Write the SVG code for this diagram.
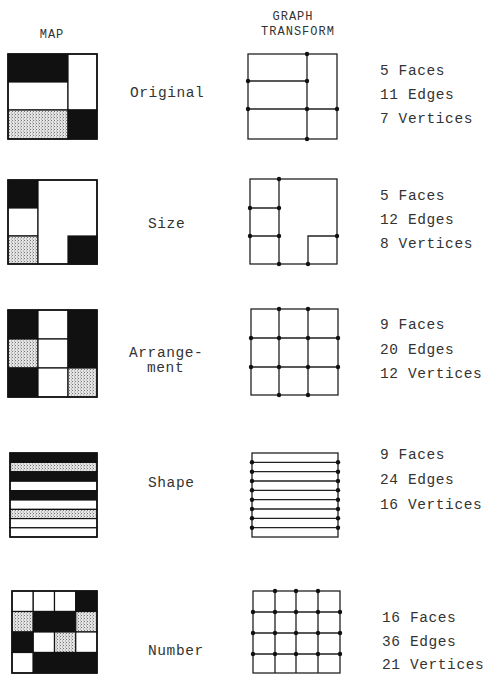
<svg xmlns="http://www.w3.org/2000/svg" width="486" height="675" viewBox="0 0 486 675">
<defs>
<pattern id="stip" width="3" height="3" patternUnits="userSpaceOnUse">
<rect width="3" height="3" fill="#e4e4e4"/>
<rect x="0" y="0" width="1" height="1" fill="#777"/>
<rect x="2" y="1.5" width="1" height="1" fill="#999"/>
</pattern>
</defs>
<style>
.b{fill:#111;stroke:#111;stroke-width:1.2}
.w{fill:#fff;stroke:#111;stroke-width:1.2}
.s{fill:url(#stip);stroke:#111;stroke-width:1.2}
.o{fill:none;stroke:#111;stroke-width:1.6}
.g{fill:none;stroke:#222;stroke-width:1.3}
.v{fill:#111}
text{font-family:"Liberation Mono","Courier New",monospace;fill:#333}
.t{font-size:14.5px;letter-spacing:0.6px}
.h{font-size:12px;letter-spacing:1px;text-anchor:middle}
</style>
<rect width="486" height="675" fill="#fff"/>
<g id="headers">
<text class="h" x="52" y="38">MAP</text>
<text class="h" x="293" y="20">GRAPH</text>
<text class="h" x="298" y="35">TRANSFORM</text>
</g>
<g id="row1">
<g id="map1">
<rect class="b" x="8" y="54" width="60" height="28"/>
<rect class="w" x="8" y="82" width="60" height="28"/>
<rect class="s" x="8" y="110" width="60" height="29"/>
<rect class="w" x="68" y="54" width="29" height="56"/>
<rect class="b" x="68" y="110" width="29" height="29"/>
<rect class="o" x="8" y="54" width="89" height="85"/>
</g>
<text class="t" x="130" y="97">Original</text>
<g id="graph1">
<rect class="g" x="248" y="54" width="89" height="85"/>
<path class="g" d="M307,54V139M248,81H307M248,109H337"/>
<g class="v"><circle cx="307" cy="54" r="2.2"/><circle cx="248" cy="81" r="2.2"/><circle cx="307" cy="81" r="2.2"/><circle cx="248" cy="109" r="2.2"/><circle cx="307" cy="109" r="2.2"/><circle cx="337" cy="109" r="2.2"/><circle cx="307" cy="139" r="2.2"/></g>
</g>
<g id="stats1"><text class="t" x="380" y="75">5 Faces</text><text class="t" x="380" y="99">11 Edges</text><text class="t" x="380" y="123">7 Vertices</text></g>
</g>
<g id="row2">
<g id="map2">
<rect class="b" x="8" y="180" width="30" height="28"/>
<rect class="w" x="8" y="208" width="30" height="28"/>
<rect class="s" x="8" y="236" width="30" height="28"/>
<rect class="w" x="38" y="180" width="59" height="84"/>
<rect class="b" x="68" y="236" width="29" height="28"/>
<rect class="o" x="8" y="180" width="89" height="84"/>
</g>
<text class="t" x="148" y="228">Size</text>
<g id="graph2">
<rect class="g" x="250" y="179" width="87" height="85"/>
<path class="g" d="M279,179V264M250,208H279M250,236H279M308,264V236H337"/>
<g class="v"><circle cx="279" cy="179" r="2.2"/><circle cx="250" cy="208" r="2.2"/><circle cx="279" cy="208" r="2.2"/><circle cx="250" cy="236" r="2.2"/><circle cx="279" cy="236" r="2.2"/><circle cx="337" cy="236" r="2.2"/><circle cx="279" cy="264" r="2.2"/><circle cx="308" cy="264" r="2.2"/></g>
</g>
<g id="stats2"><text class="t" x="380" y="200">5 Faces</text><text class="t" x="380" y="224">12 Edges</text><text class="t" x="380" y="248">8 Vertices</text></g>
</g>
<g id="row3">
<g id="map3">
<rect class="b" x="8" y="310" width="30" height="29"/>
<rect class="s" x="8" y="339" width="30" height="29"/>
<rect class="b" x="8" y="368" width="30" height="29"/>
<rect class="w" x="38" y="310" width="30" height="29"/>
<rect class="w" x="38" y="339" width="30" height="29"/>
<rect class="w" x="38" y="368" width="30" height="29"/>
<rect class="b" x="68" y="310" width="29" height="58"/>
<rect class="s" x="68" y="368" width="29" height="29"/>
<rect class="o" x="8" y="310" width="89" height="87"/>
</g>
<text class="t" x="129" y="357">Arrange-</text>
<text class="t" x="147" y="372">ment</text>
<g id="graph3">
<rect class="g" x="251" y="309" width="87" height="86"/>
<path class="g" d="M279,309V395M308,309V395M251,338H338M251,367H338"/>
<g class="v"><circle cx="279" cy="309" r="2.2"/><circle cx="308" cy="309" r="2.2"/><circle cx="251" cy="338" r="2.2"/><circle cx="279" cy="338" r="2.2"/><circle cx="308" cy="338" r="2.2"/><circle cx="338" cy="338" r="2.2"/><circle cx="251" cy="367" r="2.2"/><circle cx="279" cy="367" r="2.2"/><circle cx="308" cy="367" r="2.2"/><circle cx="338" cy="367" r="2.2"/><circle cx="279" cy="395" r="2.2"/><circle cx="308" cy="395" r="2.2"/></g>
</g>
<g id="stats3"><text class="t" x="380" y="329">9 Faces</text><text class="t" x="380" y="354">20 Edges</text><text class="t" x="380" y="378">12 Vertices</text></g>
</g>
<g id="row4">
<g id="map4">
<rect class="b" x="10" y="453" width="87" height="9.4"/>
<rect class="s" x="10" y="462.4" width="87" height="9.4"/>
<rect class="b" x="10" y="471.8" width="87" height="9.4"/>
<rect class="w" x="10" y="481.2" width="87" height="9.4"/>
<rect class="b" x="10" y="490.6" width="87" height="9.4"/>
<rect class="w" x="10" y="500" width="87" height="9.4"/>
<rect class="s" x="10" y="509.4" width="87" height="9.2"/>
<rect class="w" x="10" y="518.6" width="87" height="9.2"/>
<rect class="w" x="10" y="527.8" width="87" height="9.2"/>
<rect class="o" x="10" y="453" width="87" height="84"/>
</g>
<text class="t" x="148" y="487">Shape</text>
<g id="graph4">
<rect class="g" x="252" y="453" width="86" height="84"/>
<path class="g" d="M252,462.3H338M252,471.7H338M252,481H338M252,490.3H338M252,499.7H338M252,509H338M252,518.3H338M252,527.7H338"/>
<g class="v">
<circle cx="252" cy="462.3" r="2.2"/><circle cx="338" cy="462.3" r="2.2"/>
<circle cx="252" cy="471.7" r="2.2"/><circle cx="338" cy="471.7" r="2.2"/>
<circle cx="252" cy="481" r="2.2"/><circle cx="338" cy="481" r="2.2"/>
<circle cx="252" cy="490.3" r="2.2"/><circle cx="338" cy="490.3" r="2.2"/>
<circle cx="252" cy="499.7" r="2.2"/><circle cx="338" cy="499.7" r="2.2"/>
<circle cx="252" cy="509" r="2.2"/><circle cx="338" cy="509" r="2.2"/>
<circle cx="252" cy="518.3" r="2.2"/><circle cx="338" cy="518.3" r="2.2"/>
<circle cx="252" cy="527.7" r="2.2"/><circle cx="338" cy="527.7" r="2.2"/>
</g>
</g>
<g id="stats4"><text class="t" x="380" y="459">9 Faces</text><text class="t" x="380" y="484">24 Edges</text><text class="t" x="380" y="509">16 Vertices</text></g>
</g>
<g id="row5">
<g id="map5">
<rect class="w" x="12" y="591" width="21.25" height="20.5"/>
<rect class="w" x="33.25" y="591" width="21.25" height="20.5"/>
<rect class="w" x="54.5" y="591" width="21.25" height="20.5"/>
<rect class="b" x="75.75" y="591" width="21.25" height="20.5"/>
<rect class="s" x="12" y="611.5" width="21.25" height="20.5"/>
<rect class="b" x="33.25" y="611.5" width="42.5" height="20.5"/>
<rect class="s" x="75.75" y="611.5" width="21.25" height="20.5"/>
<rect class="b" x="12" y="632" width="21.25" height="20.5"/>
<rect class="w" x="33.25" y="632" width="21.25" height="20.5"/>
<rect class="s" x="54.5" y="632" width="21.25" height="20.5"/>
<rect class="w" x="75.75" y="632" width="21.25" height="20.5"/>
<rect class="w" x="12" y="652.5" width="21.25" height="20.5"/>
<rect class="b" x="33.25" y="652.5" width="63.75" height="20.5"/>
<rect class="o" x="12" y="591" width="85" height="82"/>
</g>
<text class="t" x="148" y="655">Number</text>
<g id="graph5">
<rect class="g" x="253" y="591" width="87" height="82"/>
<path class="g" d="M275,591V673M296,591V673M318,591V673M253,612H340M253,633H340M253,654H340"/>
<g class="v">
<circle cx="275" cy="591" r="2.2"/><circle cx="296" cy="591" r="2.2"/><circle cx="318" cy="591" r="2.2"/>
<circle cx="253" cy="612" r="2.2"/><circle cx="275" cy="612" r="2.2"/><circle cx="296" cy="612" r="2.2"/><circle cx="318" cy="612" r="2.2"/><circle cx="340" cy="612" r="2.2"/>
<circle cx="253" cy="633" r="2.2"/><circle cx="275" cy="633" r="2.2"/><circle cx="296" cy="633" r="2.2"/><circle cx="318" cy="633" r="2.2"/><circle cx="340" cy="633" r="2.2"/>
<circle cx="253" cy="654" r="2.2"/><circle cx="275" cy="654" r="2.2"/><circle cx="296" cy="654" r="2.2"/><circle cx="318" cy="654" r="2.2"/><circle cx="340" cy="654" r="2.2"/>
</g>
</g>
<g id="stats5"><text class="t" x="382" y="622">16 Faces</text><text class="t" x="382" y="646">36 Edges</text><text class="t" x="382" y="669">21 Vertices</text></g>
</g>
<g id="connectors"/>
</svg>
